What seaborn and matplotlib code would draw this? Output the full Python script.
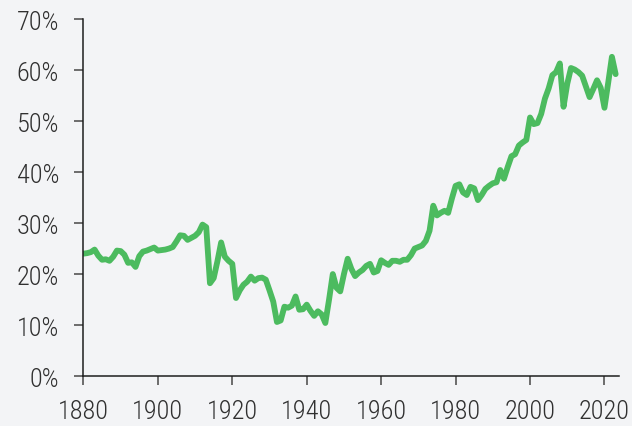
import matplotlib
matplotlib.use("Agg")
import matplotlib.pyplot as plt
import seaborn as sns
import pandas as pd
from matplotlib.ticker import FuncFormatter

# share values (%), one per year
years = list(range(1880, 2024))
share = [
    24.0, 24.1, 24.3, 24.8, 23.6, 22.8, 22.9, 22.6, 23.4, 24.6,   # 1880s
    24.5, 23.8, 22.2, 22.3, 21.4, 23.5, 24.4, 24.6, 24.9, 25.2,   # 1890s
    24.6, 24.7, 24.8, 25.0, 25.3, 26.4, 27.6, 27.5, 26.7, 27.1,   # 1900s
    27.5, 28.2, 29.7, 29.2, 18.2, 19.2, 22.5, 26.2, 23.4, 22.6,   # 1910s
    22.0, 15.3, 16.8, 17.9, 18.5, 19.5, 18.7, 19.2, 19.3, 18.9,   # 1920s
    16.8, 14.6, 10.6, 10.9, 13.6, 13.4, 13.8, 15.6, 13.0, 13.1,   # 1930s
    14.0, 12.8, 11.8, 12.7, 12.1, 10.4, 15.0, 20.0, 17.3, 16.6,   # 1940s
    20.0, 23.0, 21.0, 19.6, 20.3, 20.8, 21.6, 22.0, 20.3, 20.6,   # 1950s
    22.7, 22.2, 21.8, 22.6, 22.6, 22.4, 22.8, 22.8, 23.7, 25.0,   # 1960s
    25.3, 25.6, 26.5, 28.5, 33.4, 31.5, 32.0, 32.4, 32.0, 34.8,   # 1970s
    37.3, 37.6, 36.0, 35.5, 37.1, 36.8, 34.5, 35.5, 36.7, 37.3,   # 1980s
    37.8, 38.0, 40.4, 38.7, 41.0, 43.1, 43.5, 45.2, 45.8, 46.3,   # 1990s
    50.7, 49.4, 49.6, 51.4, 54.4, 56.4, 59.0, 59.6, 61.3, 52.8,   # 2000s
    57.3, 60.4, 60.1, 59.6, 58.9, 56.8, 54.7, 56.3, 58.0, 56.5,   # 2010s
    52.6, 57.5, 62.6, 59.2,                                       # 2020s
]
x_ticks = list(range(1880, 2021, 20))
y_ticks = list(range(0, 71, 10))

BG = "#f3f4f6"
GREEN = "#4cbb5f"
TEXT = "#303030"

df = pd.DataFrame({"year": years, "share": share})

sns.set_style("ticks")
plt.rcParams["font.family"] = ["Roboto Condensed", "DejaVu Sans"]

fig = plt.figure(figsize=(6.32, 4.27), dpi=100, facecolor=BG)
ax = fig.add_axes([0.132, 0.117, 0.848, 0.836], facecolor=BG)

sns.lineplot(data=df, x="year", y="share", color=GREEN, linewidth=4.2, ax=ax)

ax.set_xlim(1880, 2024)
ax.set_ylim(0, 70)
ax.set_xticks(x_ticks)
ax.set_yticks(y_ticks)
ax.yaxis.set_major_formatter(FuncFormatter(lambda v, _: f"{v:.0f}%"))
ax.set_xlabel("")
ax.set_ylabel("")

sns.despine(ax=ax)
for side in ["left", "bottom"]:
    ax.spines[side].set_color("#1e1e1e")
    ax.spines[side].set_linewidth(1.1)
ax.tick_params(axis="both", colors="#555555", labelcolor=TEXT, labelsize=19,
               length=6.5, width=1.2, direction="out")
for lab in ax.get_xticklabels() + ax.get_yticklabels():
    lab.set_fontweight("light")
ax.tick_params(axis="y", pad=11)
ax.tick_params(axis="x", pad=10)

fig.savefig("out.png", dpi=100, facecolor=BG)
